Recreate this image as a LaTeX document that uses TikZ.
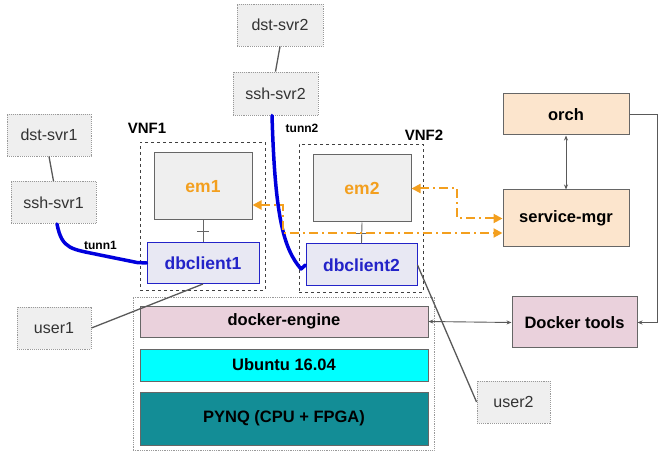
\documentclass[tikz,border=0pt]{standalone}
\usepackage{fontspec}
\setmainfont{Liberation Sans}
\usetikzlibrary{arrows.meta}
\definecolor{boxgray}{HTML}{EFEFEF}
\definecolor{dotgray}{HTML}{999999}
\definecolor{edgegray}{HTML}{666666}
\definecolor{linegray}{HTML}{595959}
\definecolor{dbfill}{HTML}{E8E8F3}
\definecolor{dbblue}{HTML}{2323C8}
\definecolor{tunblue}{HTML}{0000DD}
\definecolor{peach}{HTML}{FCE5CD}
\definecolor{pink}{HTML}{EAD1DC}
\definecolor{ubcyan}{HTML}{00FFFF}
\definecolor{teal2}{HTML}{138D96}
\definecolor{orng}{HTML}{F39F1E}
\tikzset{
  srv/.style={draw=dotgray, densely dotted, fill=boxgray, line width=0.9pt, inner sep=0pt,
              font=\fontsize{16}{19}\selectfont, text=black!80},
  embox/.style={draw=edgegray, fill=boxgray, line width=1pt, inner sep=0pt,
              font=\fontsize{17.5}{20}\selectfont\bfseries, text=orng},
  dbbox/.style={draw=dbblue, fill=dbfill, line width=1pt, inner sep=0pt,
              font=\fontsize{17.5}{20}\selectfont\bfseries, text=dbblue},
  mgr/.style={draw=edgegray, fill=peach, line width=1pt, inner sep=0pt,
              font=\fontsize{16.5}{20}\selectfont\bfseries},
  layer/.style={draw=edgegray, line width=0.8pt, inner sep=0pt, minimum width=288,
              font=\fontsize{16.5}{20}\selectfont\bfseries},
  vnfbox/.style={draw=black!75, dashed, line width=0.8pt, inner sep=0pt},
  lbl/.style={font=\fontsize{15}{18}\selectfont\bfseries},
  tlbl/.style={font=\fontsize{12}{14}\selectfont\bfseries},
  thin/.style={draw=linegray, line width=1.3pt},
  garrow/.style={draw=linegray, line width=0.9pt, {Stealth[length=5pt,width=4pt]}-{Stealth[length=5pt,width=4pt]}},
  tunnel/.style={draw=tunblue, line width=3.5pt, line cap=round, line join=round},
  oarrow/.style={draw=orng, line width=2pt, dash pattern=on 9pt off 4pt on 2pt off 4pt,
              {Triangle[length=9pt,width=9pt]}-{Triangle[length=9pt,width=9pt]}},
}
\begin{document}
\begin{tikzpicture}[x=1pt,y=-1pt]
\useasboundingbox (0,0) rectangle (659,454);
% servers
\node[srv, minimum width=86, minimum height=42] (dst2) at (280,25) {dst-svr2};
\node[srv, minimum width=85, minimum height=43] (ssh2) at (275.5,93.5) {ssh-svr2};
\node[srv, minimum width=84, minimum height=42] (dst1) at (49,135) {dst-svr1};
\node[srv, minimum width=85, minimum height=42] (ssh1) at (53.5,202.5) {ssh-svr1};
\node[srv, minimum width=74, minimum height=42] (user1) at (54,328) {user1};
\node[srv, minimum width=73, minimum height=42] (user2) at (513.5,402) {user2};
% platform
\node[draw=dotgray, densely dotted, line width=0.8pt, minimum width=301, minimum height=153, inner sep=0pt] (plat) at (283.5,373.5) {};
\node[layer, fill=pink, minimum height=31] (engine) at (284,321.5) {docker-engine};
\node[layer, fill=ubcyan, minimum height=32] (ubuntu) at (284,365) {Ubuntu 16.04};
\node[layer, fill=teal2, minimum height=53] (pynq) at (284,418.5) {PYNQ (CPU + FPGA)};
% VNFs
\node[vnfbox, minimum width=125, minimum height=148] (vnf1) at (202.5,216) {};
\node[lbl] (vnf1l) at (147,128) {VNF1};
\node[embox, minimum width=98, minimum height=67] (em1) at (203,186.5) {em1};
\node[dbbox, minimum width=112, minimum height=41] (db1) at (203,263) {dbclient1};
\node[vnfbox, minimum width=124, minimum height=148] (vnf2) at (361,218) {};
\node[lbl] (vnf2l) at (424,135) {VNF2};
\node[embox, minimum width=98, minimum height=67] (em2) at (362,188.5) {em2};
\node[dbbox, minimum width=111, minimum height=42] (db2) at (361.5,265) {dbclient2};
\node[tlbl] (t1) at (100.5,245) {tunn1};
\node[tlbl] (t2) at (302,128) {tunn2};
% managers
\node[mgr, minimum width=126, minimum height=41] (orch) at (566,114.5) {orch};
\node[mgr, minimum width=126, minimum height=57] (smgr) at (566,218.5) {service-mgr};
\node[mgr, fill=pink, minimum width=125, minimum height=51] (dtools) at (574.5,322.5) {Docker tools};
% simple links
\draw[thin] (dst1.south) -- (ssh1.north);
\draw[thin] (dst2.south) -- (ssh2.north);
\draw[thin] (user1.east) -- (db1.south);
\draw[thin] (db2.east) -- (user2.west);
% em - dbclient with tick
\draw[draw=edgegray, line width=0.9pt] (em1.south) -- coordinate[pos=0.5] (m1) (db1.north);
\draw[draw=edgegray, line width=0.9pt] ([xshift=-6pt]m1) -- ([xshift=6pt]m1);
\draw[draw=edgegray, line width=0.9pt] (em2.south) -- coordinate[pos=0.5] (m2) (db2.north);
\draw[draw=edgegray, line width=0.9pt] ([xshift=-6pt]m2) -- ([xshift=6pt]m2);
% gray arrows
\draw[garrow] (orch.south) -- (smgr.north);
\draw[garrow] (engine.east) -- (dtools.west);
\coordinate (c1) at (657,114.5);
\coordinate (c2) at (657,322.5);
\draw[draw=linegray, line width=0.9pt, -{Stealth[length=5pt,width=4pt]}] (orch.east) -- (c1) -- (c2) -- (dtools.east);
% tunnels
\coordinate (s1) at (57,224);
\draw[tunnel] (s1) .. controls (62,250) and (72,249) .. (100,255) -- (137,262.5) -- (db1.west);
\coordinate (s2) at (272,115.5);
\draw[tunnel] (s2) .. controls (275,215) and (283,248) .. (301,269) -- (db2.west);
% orange
\coordinate (a1) at (283,205);
\coordinate (a2) at (283,233);
\draw[oarrow] (em1.east |- a1) -- (a1) -- (a2) -- (smgr.west |- a2);
\coordinate (b1) at (457,188.5);
\coordinate (b2) at (457,218.5);
\draw[oarrow] (em2.east) -- (b1) -- (b2) -- (smgr.west);
\end{tikzpicture}
\end{document}
